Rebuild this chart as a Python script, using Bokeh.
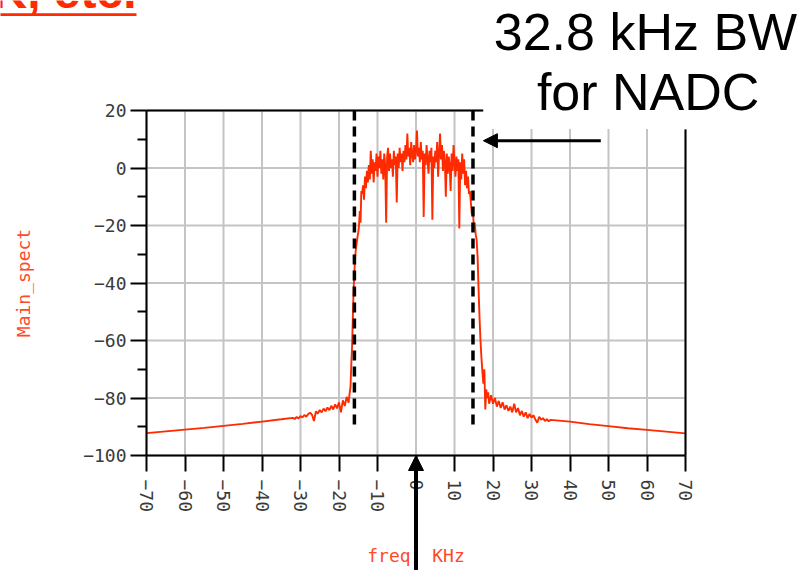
import math
from bokeh.plotting import figure
from bokeh.models import (Range1d, FixedTicker, Label, Arrow, NormalHead,
                          BoxAnnotation, LinearAxis, Grid)
from bokeh.embed import file_html
from bokeh.resources import INLINE

# ---------------- data ----------------
freq_left = [-70, -65, -60, -55, -50, -45, -40, -35, -32,
             -31.5, -31, -30.5, -30, -29.5, -29, -28.5, -28, -27.5, -27,
             -26.5, -26, -25.5, -25, -24.5, -24, -23.5, -23, -22.5, -22,
             -21.5, -21, -20.5, -20, -19.5, -19, -18.5, -18, -17.5,
             -17.25, -17.0,
             -16.8, -16.6, -16.4, -16.2, -16.0, -15.8, -15.6, -15.4, -15.2,
             -15.0, -14.8, -14.6, -14.4, -14.2]
spect_left = [-92.2, -91.6, -91.0, -90.4, -89.7, -89.0, -88.2, -87.4, -86.9,
              -87.3, -86.6, -87.1, -86.3, -86.8, -85.9, -86.5, -85.6, -85.1, -85.9,
              -88.0, -84.7, -85.4, -84.2, -85.0, -83.7, -84.6, -83.3, -84.2, -82.7,
              -84.0, -82.2, -83.6, -81.5, -85.0, -80.8, -82.8, -79.6, -81.6,
              -78.5, -76.0,
              -68, -62, -52, -42, -36, -31, -28, -26, -24,
              -22.5, -20, -15, -19, -8]

freq_band = [-14.0, -13.75, -13.5, -13.25, -13.0, -12.75, -12.5, -12.25,
             -12.0, -11.75, -11.5, -11.25, -11.0, -10.75, -10.5, -10.25,
             -10.0, -9.75, -9.5, -9.25, -9.0, -8.75, -8.5, -8.25,
             -8.0, -7.75, -7.5, -7.25, -7.0, -6.75, -6.5, -6.25,
             -6.0, -5.75, -5.5, -5.25, -5.0, -4.75, -4.5, -4.25,
             -4.0, -3.75, -3.5, -3.25, -3.0, -2.75, -2.5, -2.25,
             -2.0, -1.75, -1.5, -1.25, -1.0, -0.75, -0.5, -0.25,
             0.0, 0.25, 0.5, 0.75, 1.0, 1.25, 1.5, 1.75,
             2.0, 2.25, 2.5, 2.75, 3.0, 3.25, 3.5, 3.75,
             4.0, 4.25, 4.5, 4.75, 5.0, 5.25, 5.5, 5.75,
             6.0, 6.25, 6.5, 6.75, 7.0, 7.25, 7.5, 7.75,
             8.0, 8.25, 8.5, 8.75, 9.0, 9.25, 9.5, 9.75,
             10.0, 10.25, 10.5, 10.75, 11.0, 11.25, 11.5, 11.75,
             12.0, 12.25, 12.5, 12.75, 13.0, 13.25, 13.5, 13.75,
             14.0]
spect_band = [-9, -6, -11, -3, -7, -1, -5, 1,
              -4, 6, -2, 3, -5, 2, -1, 5,
              -3, 4, 0, 6, -2, 3, -4, 5,
              1, -19, 4, 7, -1, 5, 0, 3,
              -3, 6, 1, 4, -12, 5, 0, 7,
              2, 5, -1, 6, 2, 8, 3, 12,
              4, 7, 1, 9, 5, 2, 8, 3,
              6, 13, 4, 7, 2, 9, 3, 6,
              -17, 5, 1, 8, 3, -2, 6, 2,
              7, -18, 4, 0, 6, 2, 9, -3,
              5, 12, 3, 8, -1, 6, 2, -10,
              5, -2, 4, 1, -8, 5, -1, 8,
              2, -3, 4, -1, 3, -21, 2, -4,
              5, -2, 3, -6, -1, -7, -3, -9,
              -8]

freq_right = [14.25, 14.5, 14.75, 15.0, 15.25, 15.5, 15.75, 16.0, 16.25, 16.5,
              16.75, 17.0, 17.25, 17.5, 17.75,
              18.0, 18.25, 18.5, 18.75,
              19.0, 19.5, 20.0, 20.5, 21.0, 21.5, 22.0, 22.5, 23.0, 23.5, 24.0,
              24.5, 25.0, 25.5, 26.0, 26.5, 27.0, 27.5, 28.0, 28.5, 29.0, 29.5,
              30.0, 30.5, 31.0, 31.5, 32.0, 32.5, 33.0, 33.5, 34.0, 34.5, 35.0,
              40, 45, 50, 55, 60, 65, 70]
spect_right = [-12, -16, -14, -20, -19, -23, -25, -31, -42, -52,
               -60, -66, -71, -75, -70,
               -84, -77, -80, -78,
               -82, -79, -82, -80, -83, -81, -83.5, -81.5, -84, -82.5, -84.5,
               -83, -85, -82, -85, -83.5, -86, -84.5, -86.5, -85, -87, -85.5,
               -86.8, -86, -87.5, -88.6, -86.5, -87.6, -87, -88, -87.4, -88.1, -87.6,
               -88.2, -89.1, -89.8, -90.5, -91.1, -91.7, -92.3]

freq_khz = freq_left + freq_band + freq_right
main_spect = spect_left + spect_band + spect_right

bw_edges_khz = [-16.0, 14.8]          # dashed bandwidth markers
x_ticks = [-70, -60, -50, -40, -30, -20, -10, 0, 10, 20, 30, 40, 50, 60, 70]
y_ticks = [-100, -80, -60, -40, -20, 0, 20]
y_minor_ticks = [-90, -70, -50, -30, -10, 10]

RED = "#ff2a00"
MONO = "DejaVu Sans Mono"

# ---------------- layout: plot box inside the 805x570 canvas ----------------
W, H = 805, 570
BOX_L, BOX_R, BOX_T, BOX_B = 146, 685, 110, 455       # pixel edges of the chart box
X0, X1, Y0, Y1 = -70, 70, -100, 20                     # chart box data limits
kx = (BOX_R - BOX_L) / (X1 - X0)
ky = (BOX_B - BOX_T) / (Y1 - Y0)
x_range = Range1d(X0 - BOX_L / kx, X1 + (W - BOX_R) / kx)
y_range = Range1d(Y0 - (H - BOX_B) / ky, Y1 + BOX_T / ky)

p = figure(width=W, height=H, output_backend="svg", toolbar_location=None,
           x_range=x_range, y_range=y_range, min_border=0, title=None,
           x_axis_location=None, y_axis_location=None)
p.background_fill_color = "white"
p.border_fill_color = "white"
p.outline_line_color = None
# drop the default full-canvas grids
p.center = [r for r in p.center if not isinstance(r, Grid)]

xaxis = LinearAxis(fixed_location=Y0, bounds=(X0, X1),
                   ticker=FixedTicker(ticks=x_ticks))
yaxis = LinearAxis(fixed_location=X0, bounds=(Y0, Y1),
                   ticker=FixedTicker(ticks=y_ticks, minor_ticks=y_minor_ticks))
p.add_layout(xaxis, "below")
p.add_layout(yaxis, "left")

xaxis.major_label_overrides = {t: str(t).replace("-", "\u2212") for t in x_ticks}
yaxis.major_label_overrides = {t: str(t).replace("-", "\u2212") for t in y_ticks}
for ax in (xaxis, yaxis):
    ax.axis_line_width = 2
    ax.axis_line_color = "black"
    ax.major_tick_line_width = 2
    ax.major_tick_line_color = "black"
    ax.major_tick_out = 16
    ax.major_tick_in = 0
    ax.minor_tick_line_width = 2
    ax.minor_tick_line_color = "black"
    ax.minor_tick_out = 9
    ax.minor_tick_in = 0
    ax.major_label_text_font = MONO
    ax.major_label_text_font_size = "18px"
    ax.major_label_text_color = "#3a3a3a"
    ax.axis_label_text_font = MONO
    ax.axis_label_text_font_size = "18px"
    ax.axis_label_text_font_style = "normal"
    ax.axis_label_text_color = "#ff4a2a"
xaxis.minor_tick_line_color = None
xaxis.major_label_orientation = -math.pi / 2
xaxis.major_label_standoff = 8
yaxis.major_label_standoff = 4
xaxis.axis_label = "freq, KHz"
yaxis.axis_label = "Main_spect"
xaxis.axis_label_standoff = 30
yaxis.axis_label_standoff = 46

# top and right edges of the chart box (partly hidden by the note text)
top_edge = LinearAxis(fixed_location=Y1, bounds=(X0, 17.5), ticker=FixedTicker(ticks=[]),
                      axis_line_width=2, major_tick_line_color=None,
                      minor_tick_line_color=None, major_label_text_font_size="0px")
right_edge = LinearAxis(fixed_location=X1, bounds=(Y0, 13.5), ticker=FixedTicker(ticks=[]),
                        axis_line_width=2, major_tick_line_color=None,
                        minor_tick_line_color=None, major_label_text_font_size="0px")
p.add_layout(top_edge, "above")
p.add_layout(right_edge, "right")

# grid, limited to the chart box
GRID_COLOR = "#c4c4c4"
p.segment(x0=x_ticks, y0=[Y0] * len(x_ticks), x1=x_ticks, y1=[Y1] * len(x_ticks),
          line_color=GRID_COLOR, line_width=2, level="underlay")
p.segment(x0=[X0] * len(y_ticks), y0=y_ticks, x1=[X1] * len(y_ticks), y1=y_ticks,
          line_color=GRID_COLOR, line_width=2, level="underlay")

# spectrum
p.line(freq_khz, main_spect, line_color=RED, line_width=1.9)

# bandwidth markers
p.segment(x0=bw_edges_khz, y0=[Y1, Y1], x1=bw_edges_khz, y1=[-90.5, -90.5],
          line_color="black", line_width=3.5, line_dash="10 6")

# white patch behind the note text (hides the top-right of the grid)
p.add_layout(BoxAnnotation(left=17.5, right=70.6, top=20.6, bottom=13.6,
                           fill_color="white", fill_alpha=1.0, line_color=None))

# cropped heading at the top-left, with its underline
p.add_layout(Label(x=-110, y=61.5, text="K, etc.", text_font="Liberation Sans",
                   text_font_style="bold", text_font_size="48px", text_color=RED,
                   text_align="left", text_baseline="alphabetic"))
p.add_layout(BoxAnnotation(left=-115, right=-72.6, top=53.85, bottom=52.9,
                           fill_color=RED, fill_alpha=1.0, line_color=None))

# note text
p.add_layout(Label(x=59.6, y=47.2, text="32.8 kHz BW", text_font="Liberation Sans",
                   text_font_size="52px", text_color="black",
                   text_align="center", text_baseline="alphabetic"))
p.add_layout(Label(x=60.3, y=26.6, text="for NADC", text_font="Liberation Sans",
                   text_font_size="52px", text_color="black",
                   text_align="center", text_baseline="alphabetic"))

# arrows
p.add_layout(Arrow(x_start=48, y_start=9.5, x_end=17.5, y_end=9.5,
                   line_width=3, line_color="black",
                   end=NormalHead(size=14, fill_color="black", line_color="black")))
p.add_layout(Arrow(x_start=0, y_start=-142, x_end=0, y_end=Y0,
                   line_width=4, line_color="black",
                   end=NormalHead(size=15, fill_color="black", line_color="black")))

open("out.html", "w").write(file_html(p, INLINE))
